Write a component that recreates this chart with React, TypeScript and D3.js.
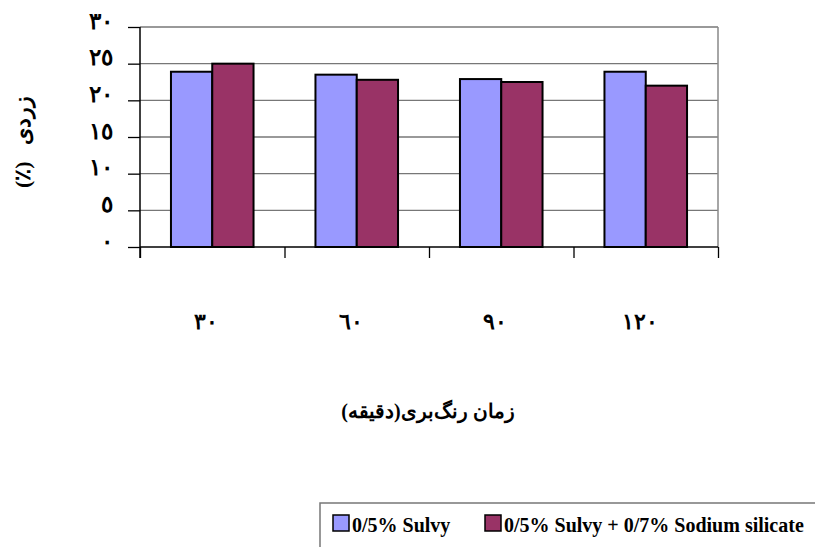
import { useEffect, useRef } from "react";
import { select, scaleBand, scaleLinear, axisLeft, axisBottom } from "d3";

// data
const categories = ["٣٠", "٦٠", "٩٠", "١٢٠"];
const sulvy = [23.9, 23.5, 22.9, 23.9];
const sulvySilicate = [25.0, 22.8, 22.5, 22.0];
const yTicks = [0, 5, 10, 15, 20, 25, 30];
const yTickLabels = ["٠", "٥", "١٠", "١٥", "٢٠", "٢٥", "٣٠"];
const seriesNames = ["0/5% Sulvy", "0/5% Sulvy + 0/7% Sodium silicate"];
const seriesColors = ["#9999FF", "#993366"];
const yTitle = "زردی\u00A0\u00A0\u00A0(٪)";
const xTitle = "زمان رنگ‌بری(دقیقه)";

const W = 815;
const H = 547;
const plot = { left: 140, right: 718, top: 27, bottom: 247 };
const font = "'Liberation Serif', 'Times New Roman', serif";

const App = () => {
  const svgRef = useRef<SVGSVGElement>(null);

  useEffect(() => {
    document.body.style.margin = "0";
    const svg = select(svgRef.current);
    svg.selectAll("*").remove();

    const y = scaleLinear().domain([0, 30]).range([plot.bottom, plot.top]);
    const x0 = scaleBand<string>()
      .domain(categories)
      .range([plot.left, plot.right]);
    const step = x0.bandwidth();
    // excel gap width ~150%
    const x1 = scaleBand<number>()
      .domain([0, 1])
      .range([(step * 0.75) / 3.5, (step * 2.75) / 3.5]);

    // grid lines
    svg
      .append("g")
      .selectAll("line")
      .data(yTicks.filter((d) => d > 0))
      .join("line")
      .attr("x1", plot.left)
      .attr("x2", plot.right)
      .attr("y1", (d) => y(d))
      .attr("y2", (d) => y(d))
      .attr("stroke", "#777")
      .attr("stroke-width", 1.3);

    // right border
    svg
      .append("line")
      .attr("x1", plot.right)
      .attr("x2", plot.right)
      .attr("y1", plot.top)
      .attr("y2", plot.bottom)
      .attr("stroke", "#888")
      .attr("stroke-width", 1.5);

    // bars
    const groups = svg
      .append("g")
      .selectAll("g")
      .data(categories)
      .join("g")
      .attr("transform", (d) => `translate(${x0(d)},0)`);

    groups
      .selectAll("rect")
      .data((d, i) => [sulvy[i], sulvySilicate[i]])
      .join("rect")
      .attr("x", (d, j) => x1(j)!)
      .attr("width", x1.bandwidth())
      .attr("y", (d) => y(d))
      .attr("height", (d) => y(0) - y(d))
      .attr("fill", (d, j) => seriesColors[j])
      .attr("stroke", "#000")
      .attr("stroke-width", 2);

    // y axis
    const yAxis = axisLeft(y)
      .tickValues(yTicks)
      .tickFormat((d, i) => yTickLabels[i])
      .tickSize(12)
      .tickPadding(15);
    const gy = svg
      .append("g")
      .attr("transform", `translate(${plot.left},0)`)
      .call(yAxis);
    gy.select(".domain").remove();
    gy.selectAll("line").attr("stroke", "#000").attr("stroke-width", 1.3);
    gy.selectAll("text")
      .attr("font-family", font)
      .attr("font-weight", "bold")
      .attr("font-size", 23)
      .attr("fill", "#000")
      .attr("dy", "0.05em");
    svg
      .append("line")
      .attr("x1", plot.left)
      .attr("x2", plot.left)
      .attr("y1", plot.top)
      .attr("y2", plot.bottom + 11)
      .attr("stroke", "#000")
      .attr("stroke-width", 1.5);

    // x axis (ticks between categories)
    const xb = scaleLinear().domain([0, 4]).range([plot.left, plot.right]);
    const gx = svg
      .append("g")
      .attr("transform", `translate(0,${plot.bottom})`)
      .call(
        axisBottom(xb)
          .tickValues([0, 1, 2, 3, 4])
          .tickSize(11)
          .tickFormat(() => "")
      );
    gx.select(".domain")
      .attr("d", `M${plot.left},0H${plot.right}`)
      .attr("stroke", "#000")
      .attr("stroke-width", 1.5);
    gx.selectAll("line").attr("stroke", "#000").attr("stroke-width", 1.3);

    // category labels
    svg
      .append("g")
      .selectAll("text")
      .data(categories)
      .join("text")
      .attr("x", (d) => x0(d)! + step / 2 - 6)
      .attr("y", 329)
      .attr("text-anchor", "middle")
      .attr("font-family", font)
      .attr("font-weight", "bold")
      .attr("font-size", 22)
      .text((d) => d);

    // axis titles
    svg
      .append("text")
      .attr("x", 428)
      .attr("y", 418)
      .attr("text-anchor", "middle")
      .attr("direction", "rtl")
      .attr("font-family", font)
      .attr("font-weight", "bold")
      .attr("font-size", 20)
      .text(xTitle);

    svg
      .append("text")
      .attr("transform", `translate(30,142) rotate(-90)`)
      .attr("text-anchor", "middle")
      .attr("direction", "rtl")
      .attr("font-family", font)
      .attr("font-weight", "bold")
      .attr("font-size", 22)
      .text(yTitle);

    // legend
    const legend = svg.append("g");
    legend
      .append("rect")
      .attr("x", 320)
      .attr("y", 503)
      .attr("width", 520)
      .attr("height", 60)
      .attr("fill", "#fff")
      .attr("stroke", "#777")
      .attr("stroke-width", 1.5);
    const legendX = [333, 485];
    seriesNames.forEach((name, i) => {
      legend
        .append("rect")
        .attr("x", legendX[i])
        .attr("y", 515)
        .attr("width", 16)
        .attr("height", 16)
        .attr("fill", seriesColors[i])
        .attr("stroke", "#000")
        .attr("stroke-width", 1.5);
      legend
        .append("text")
        .attr("x", legendX[i] + 19)
        .attr("y", 532)
        .attr("font-family", font)
        .attr("font-weight", "bold")
        .attr("font-size", 20)
        .text(name);
    });
  }, []);

  return (
    <svg
      ref={svgRef}
      width={W}
      height={H}
      style={{ display: "block", background: "#fff" }}
    />
  );
};

export default App;
